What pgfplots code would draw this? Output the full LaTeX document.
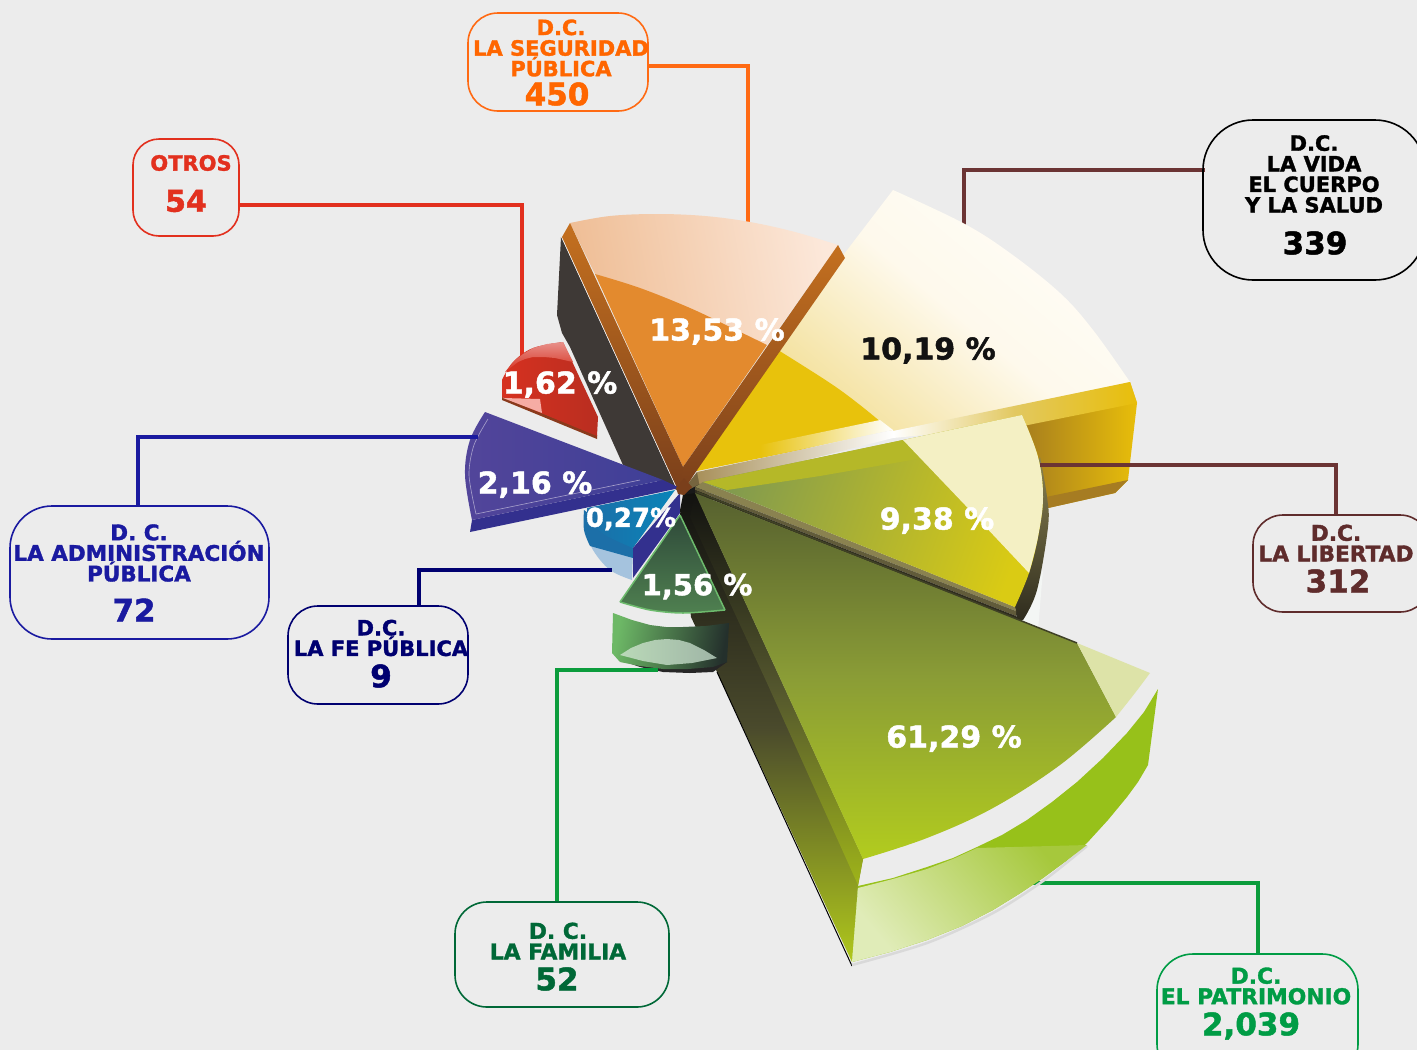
\documentclass[border=0pt]{standalone}
\usepackage{pgfplots}
\pgfplotsset{compat=1.18}
\usepackage{fontspec}
\setmainfont[BoldFeatures={FakeBold=1.5}]{DejaVu Sans}
\newcommand{\hx}[2]{\definecolor{#1}{HTML}{#2}}
\hx{bg}{ECECEC}\hx{cOrg}{FF6A13}\hx{cRed}{E2301E}\hx{cBrn}{6B3434}\hx{cBlu}{1A1AA0}\hx{cNav}{000070}\hx{cGrn}{0B9C3C}\hx{cFam}{006837}\hx{cPat}{009C45}\hx{cLib}{5F2C2C}\hx{cOTx}{FF6600}
\hx{dkA}{3E3936}\hx{orL}{EFBE96}\hx{orR}{FCE8DA}\hx{orF}{E38A2E}\hx{brT}{C4701F}\hx{brB}{7A3F1B}
\hx{rdA}{D63120}\hx{rdB}{B92E20}\hx{rdL}{E8908A}\hx{rdP}{F6ACA4}\hx{rdE}{8A3A1C}
\hx{puA}{52459A}\hx{puB}{3F3F97}\hx{puD}{33308E}\hx{tlA}{0A84B8}\hx{tlB}{1C6FA8}\hx{tlL}{A5C3DE}
\hx{gnA}{2F4A3A}\hx{gnB}{4F8050}\hx{gnE}{6DBB6D}\hx{gbL}{6DB866}\hx{gbR}{24302C}\hx{gcL}{BAD9B8}\hx{gcR}{9FB5A6}
\hx{ywA}{E8C20C}\hx{crL}{F4E2A0}\hx{crM}{FEF9EC}\hx{crR}{FFFDF8}\hx{gdL}{A77E1E}\hx{gdR}{E8BE0A}\hx{gdS}{A67C22}\hx{gdM}{E2C860}
\hx{olA}{7F9950}\hx{olB}{DACB14}\hx{olC}{F4F0C4}\hx{olT}{B5B828}\hx{sdT}{8A8250}\hx{sdB}{2F2C1E}\hx{tan}{A8905A}\hx{slv}{F3F6F4}
\hx{bgT}{56602F}\hx{bgM}{8A9C36}\hx{bgB}{B2CC1E}\hx{bgL}{DDE3A8}\hx{rmA}{97C11A}\hx{rmL}{E0ECB8}\hx{rmM}{A6C83C}\hx{siT}{121210}\hx{siM}{4A4A2C}\hx{siB}{B0C81C}
\newcommand{\poly}[2]{\addplot[draw=none,#1] coordinates {#2} --cycle;}
% one curved edge (smooth) closed through straight edges
\newcommand{\arcp}[3]{\addplot[draw=none,smooth,tension=0.6,#1] coordinates {#2} #3 --cycle;}
\newcommand{\lead}[2]{\addplot[draw=#1,line width=3.4pt,line join=miter] coordinates {#2};}
\newcommand{\rbox}[3]{\addplot[draw=#1,line width=1.6pt,rounded corners=#2pt,fill=none] coordinates {#3} --cycle;}
\newcommand{\lbl}[5]{\node[text=#1,align=center,inner sep=0pt,font={\fontsize{#4}{20.6}\selectfont\bfseries}] at (axis cs:#2,#3) {#5};}
\begin{document}
\begin{tikzpicture}
\path[use as bounding box,fill=bg] (0,0) rectangle (1417pt,1050pt);
\begin{axis}[at={(0,0)},anchor=south west,scale only axis,width=1417pt,height=1050pt,
  xmin=0,xmax=1417,ymin=0,ymax=1050,y dir=reverse,axis lines=none,clip=true,no markers]
% leader lines behind the slices
\lead{cRed}{(239,205)(522,205)(522,362)}
\lead{cOrg}{(648,66)(748,66)(748,224)}
\lead{cBrn}{(1205,170)(964,170)(964,225)}
\lead{cGrn}{(1029,883)(1258,883)(1258,955)}
% dark wall behind orange slice
\poly{fill=dkA}{(561,237)(557,315)(562,333)(570,347)(623,465)(677,490)}
\addplot[draw=white,line width=1pt] coordinates {(562,237)(677,488)};
% red slice
\poly{fill=rdE}{(502,397)(502,400)(597,439)(597,435)}
\arcp{left color=rdA,right color=rdB}{(563,342)(533,348)(513,362)(502,380)}{-- (axis cs:502,397) -- (axis cs:597,436) -- (axis cs:598,417)}
\poly{top color=rdL,bottom color=rdA}{(563,342)(547,344)(533,348)(523,354)(515,360)(505,372)(518,362)(525,359)(533,357)(544,357)(555,358)(573,362)}
\poly{fill=rdP}{(503,398)(540,399)(542,413)}
% orange slice
\arcp{left color=orL,right color=orR,shading angle=100}{(570,223)(610,216)(657,214)(705,216)(750,222)(795,232)(838,245)}{-- (axis cs:767,345) -- (axis cs:595,274)}
\arcp{fill=orF}{(595,274)(640,288)(690,308)(730,327)(767,345)}{-- (axis cs:683,467)}
\poly{top color=brT,bottom color=brB}{(570,223)(562,237)(677,488)(683,493)(683,467)}
% gold wall of the yellow slice
\poly{left color=gdL,right color=gdR}{(1023,415)(1130,382)(1137,403)(1128,480)(1115,493)(1048,508)(1030,470)}
\poly{fill=gdS}{(1128,480)(1115,493)(1048,508)(1046,497)}
% yellow slice
\arcp{top color=crR,bottom color=crL,middle color=crM,shading angle=-40}{(893,190)(963,223)(1010,253)(1060,293)(1093,330)(1130,382)}{-- (axis cs:890,432) -- (axis cs:776,353) -- (axis cs:838,262)}
\arcp{fill=ywA}{(778,350)(830,383)(860,405)(888,428)}{-- (axis cs:800,450) -- (axis cs:692,472)}
\poly{left color=ywA,right color=white}{(760,445)(880,420)(893,430)(760,458)}
\poly{fill=tan!70!black}{(683,490)(697,472)(703,482)(695,493)}
\poly{left color=tan,right color=white}{(697,472)(893,430)(893,438)(700,487)}
\poly{left color=white,right color=gdR,middle color=gdM}{(893,431)(1130,382)(1137,403)(1028,425)(893,438)}
% right bar of the orange slice, in front of the yellow
\poly{top color=brT,bottom color=brB}{(838,245)(845,258)(695,473)(682,493)(683,467)}
% 9,38 slice: wall, dark band and face
\poly{fill=slv}{(1043,570)(1023,622)(1038,630)}
\arcp{top color=sdT,bottom color=sdB}{(1040,457)(1047,497)(1048,527)(1037,590)(1023,620)}{-- (axis cs:1017,620) -- (axis cs:1015,607) -- (axis cs:1000,530)}
% centre
\poly{fill=black!90}{(683,493)(700,484)(712,500)(700,525)(682,520)}
\poly{fill=sdT}{(703,482)(1015,607)(1016,611)(695,487)}
\poly{fill=sdT!55!sdB}{(695,487)(1016,611)(1016,616)(695,490)}
\poly{fill=sdB}{(695,490)(1016,616)(1020,622)(695,493)}
\arcp{left color=olA,right color=olB,shading angle=70}{(1022,415)(1038,457)(1043,497)(1038,537)(1029,573)(1015,607)}{-- (axis cs:703,482)}
\poly{fill=olT}{(703,482)(903,440)(923,458)(820,476)(727,490)}
\arcp{fill=olC}{(1022,415)(1038,457)(1043,497)(1038,537)(1029,573)}{-- (axis cs:965,505) -- (axis cs:903,440)}
% purple slice
\poly{fill=puD}{(472,520)(470,532)(680,488)(663,480)}
\arcp{left color=puA,right color=puB,shading angle=90}{(485,412)(470,440)(465,475)(472,520)}{-- (axis cs:663,480)}
\addplot[draw=puA!50!white,line width=0.6pt,smooth] coordinates {(488,419)(474,445)(469,475)(476,514)};
\addplot[draw=puA!50!white,line width=0.6pt] coordinates {(476,514)(640,480)};
% 0,27 slice
\arcp{fill=tlL}{(586,530)(593,550)(610,570)(632,580)}{-- (axis cs:633,548)}
\arcp{fill=tlB}{(584,510)(584,530)(590,546)}{-- (axis cs:633,558) -- (axis cs:633,548)}
\arcp{left color=tlB,right color=tlA}{(633,548)(605,535)(587,520)}{-- (axis cs:587,508) -- (axis cs:675,490)}
\poly{fill=puD}{(680,493)(680,513)(633,578)(633,548)}
% side wall of the big slice
\poly{top color=siT,bottom color=siB,middle color=siM}{(683,495)(695,493)(863,859)(858,886)(852,962)(717,672)(691,617)(680,510)}
\poly{top color=siT,bottom color=siB!90!black,middle color=siM!85!bgM}{(695,493)(863,859)(858,885)(767,683)(690,517)}
\addplot[draw=black,line width=1pt] coordinates {(717,672)(852,966)};
\poly{fill=brB}{(676,488)(684,478)(692,487)(684,495)(678,494)}
% green slice and its block
\arcp{top color=gnA,bottom color=gnB}{(725,610)(683,613)(650,610)(620,602)}{-- (axis cs:680,515)}
\addplot[draw=gnE,line width=1.5pt] coordinates {(680,515)(725,610)};
\addplot[draw=gnE,line width=1.5pt,smooth] coordinates {(725,610)(683,613)(650,610)(620,602)};
\addplot[draw=gnE,line width=1.5pt] coordinates {(620,602)(680,515)};
\poly{fill=black!85}{(620,660)(640,667)(663,672)(690,673)(713,672)(727,662)(640,660)}
\poly{left color=gbL,right color=gbR,shading angle=80}{(613,613)(632,620)(650,625)(666,627)(683,627)(706,626)(729,623)(727,662)(713,667)(688,669)(663,669)(640,666)(620,662)(612,653)}
\poly{left color=gcL,right color=gcR}{(620,655)(631,648)(643,643)(655,640)(667,639)(679,640)(690,643)(704,650)(717,658)(692,663)(667,665)(643,661)}
% big slice
\arcp{top color=bgT,bottom color=bgB,middle color=bgM}{(1116,717)(1060,765)(993,808)(927,838)(863,859)}{-- (axis cs:695,493) -- (axis cs:1077,643)}
\arcp{fill=bgL}{(1150,673)(1135,693)(1116,717)}{-- (axis cs:1077,643)}
\addplot[draw=sdB!60!bgT,line width=1.5pt] coordinates {(697,492)(1077,643)};
% rim of the big slice
\addplot[draw=black!15,line width=2.5pt,smooth] coordinates {(1087,846)(1043,881)(993,913)(927,943)(852,965)};
\poly{fill=rmA}{(1158,689)(1144,712)(1127,733)(1103,758)(1077,782)(1052,802)(1027,820)(1002,835)(977,847)(953,858)(927,867)(893,878)(858,886)(852,962)(890,952)(927,940)(962,926)(993,910)(1019,894)(1043,878)(1066,861)(1087,843)(1108,820)(1127,797)(1138,782)(1148,765)}
\poly{top color=rmM,bottom color=rmL,shading angle=-50}{(858,888)(893,879)(927,869)(953,859)(977,848)(1087,845)(1066,861)(1043,878)(1019,894)(993,910)(962,926)(927,940)(890,952)(852,962)}
% leader lines in front
\lead{cBrn}{(1040,465)(1336,465)(1336,516)}
\lead{cBlu}{(478,437)(138,437)(138,506)}
\lead{cNav}{(612,570)(419,570)(419,606)}
\lead{cGrn}{(658,670)(557,670)(557,902)}
% boxes
\rbox{cOrg}{30}{(468,13)(648,13)(648,111)(468,111)}
\rbox{cRed}{26}{(133,139)(239,139)(239,236)(133,236)}
\rbox{black}{50}{(1203,120)(1425,120)(1425,280)(1203,280)}
\rbox{cLib}{30}{(1253,515)(1430,515)(1430,612)(1253,612)}
\rbox{cBlu}{42}{(10,506)(269,506)(269,639)(10,639)}
\rbox{cNav}{30}{(288,606)(468,606)(468,704)(288,704)}
\rbox{cFam}{32}{(455,902)(669,902)(669,1007)(455,1007)}
\rbox{cPat}{36}{(1157,954)(1358,954)(1358,1080)(1157,1080)}
% box texts
\lbl{cOTx}{561}{48}{21}{D.C.\\LA SEGURIDAD\\PÚBLICA}
\lbl{cOTx}{557}{94}{31}{450}
\lbl{cRed}{191}{163}{21}{OTROS}
\lbl{cRed}{186}{201}{30}{54}
\lbl{black}{1314}{174}{21}{D.C.\\LA VIDA\\EL CUERPO\\Y LA SALUD}
\lbl{black}{1315}{243}{31}{339}
\lbl{cLib}{1336}{543}{21.7}{D.C.\\LA LIBERTAD}
\lbl{cLib}{1338}{581}{31}{312}
\lbl{cBlu}{139}{553}{21.5}{D. C.\\LA ADMINISTRACIÓN\\PÚBLICA}
\lbl{cBlu}{134}{610}{31}{72}
\lbl{cNav}{381}{638}{21}{D.C.\\LA FE PÚBLICA}
\lbl{cNav}{381}{676}{31}{9}
\lbl{cFam}{558}{941}{21.8}{D. C.\\LA FAMILIA}
\lbl{cFam}{557}{979}{31}{52}
\lbl{cPat}{1256}{986}{21.8}{D.C.\\EL PATRIMONIO}
\lbl{cPat}{1251}{1026}{31}{2,039}
% percentages
\lbl{white}{717}{331.5}{30}{13,53 \%}
\lbl{black!93}{928}{350.5}{30}{10,19 \%}
\lbl{white}{937}{520.5}{30}{9,38 \%}
\lbl{white}{954}{738.5}{30}{61,29 \%}
\lbl{white}{560}{384.5}{30}{1,62 \%}
\lbl{white}{535}{484.5}{30}{2,16 \%}
\lbl{white}{631}{519}{26}{0,27\%}
\lbl{white}{697}{586.5}{29}{1,56 \%}
\end{axis}
\end{tikzpicture}
\end{document}
